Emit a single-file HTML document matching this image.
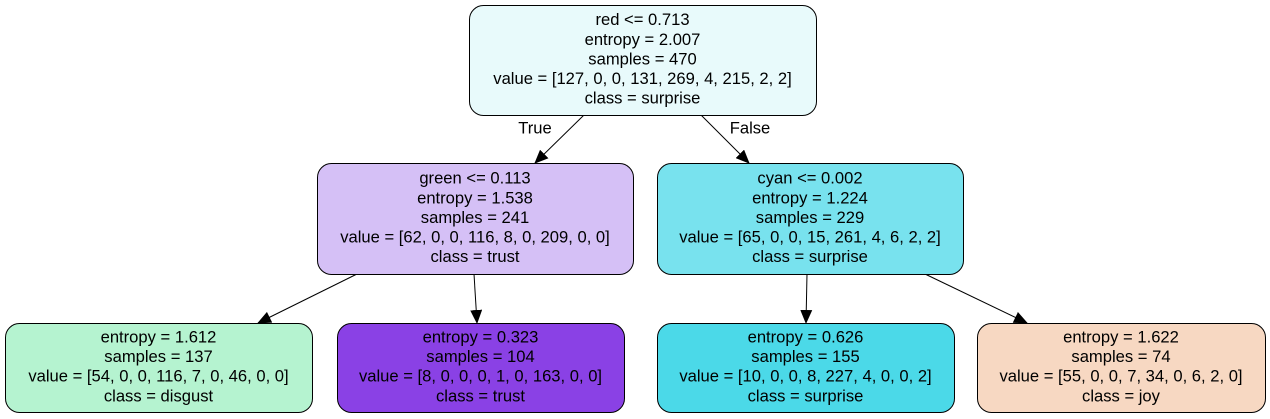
<!DOCTYPE html>
<html><head><meta charset="utf-8"><style>
html,body{margin:0;padding:0;background:#fff;width:1270px;height:419px;overflow:hidden}
svg text{font-family:"Liberation Sans",Arial,sans-serif;font-size:16.6px;fill:#000}
</style></head><body>
<svg id="tree" width="1270" height="419" viewBox="0 0 1270 419" xmlns="http://www.w3.org/2000/svg">
<defs><marker id="ah" markerWidth="14" markerHeight="12" refX="13" refY="6" orient="auto" markerUnits="userSpaceOnUse"><path d="M0,0 L14,6 L0,12 z" fill="#000"/></marker></defs>
</svg>
<script>
const nodeNames=["root","node-green","node-cyan","leaf-disgust","leaf-trust","leaf-surprise","leaf-joy"];
const nodeLines=[
["red <= 0.713","entropy = 2.007","samples = 470","value = [127, 0, 0, 131, 269, 4, 215, 2, 2]","class = surprise"],
["green <= 0.113","entropy = 1.538","samples = 241","value = [62, 0, 0, 116, 8, 0, 209, 0, 0]","class = trust"],
["cyan <= 0.002","entropy = 1.224","samples = 229","value = [65, 0, 0, 15, 261, 4, 6, 2, 2]","class = surprise"],
["entropy = 1.612","samples = 137","value = [54, 0, 0, 116, 7, 0, 46, 0, 0]","class = disgust"],
["entropy = 0.323","samples = 104","value = [8, 0, 0, 0, 1, 0, 163, 0, 0]","class = trust"],
["entropy = 0.626","samples = 155","value = [10, 0, 0, 8, 227, 4, 0, 0, 2]","class = surprise"],
["entropy = 1.622","samples = 74","value = [55, 0, 0, 7, 34, 0, 6, 2, 0]","class = joy"]];
const nodeFills=["#e8fafb","#d5c0f6","#78e2ee","#b5f3d0","#8a41e5","#4bd9e8","#f7d8c2"];
const boxes=[[469,5,816,115],[317,163,633,274],[657,163,963,274],[5,323,312,412],[337,323,624,412],[657,323,954,412],[977,323,1265,412]];
const edges=[[584,115,535,163,"True",535,129],[701,115,749,163,"False",750,129],[357,274,258,323],[474,274,477,323],[807,274,806,323],[925,274,1027,323]];
const svg=document.getElementById('tree');
const NS="http://www.w3.org/2000/svg";
edges.forEach((e,i)=>{
  const l=document.createElementNS(NS,'line');
  l.setAttribute('x1',e[0]);l.setAttribute('y1',e[1]);l.setAttribute('x2',e[2]);l.setAttribute('y2',e[3]);
  l.setAttribute('stroke','#000');l.setAttribute('stroke-width','1');l.setAttribute('marker-end','url(#ah)');
  
  
  svg.appendChild(l);
  if(e[4]){const t=document.createElementNS(NS,'text');
    t.setAttribute('x',e[5]);t.setAttribute('y',e[6]);t.setAttribute('text-anchor','middle');t.setAttribute('dominant-baseline','middle');
    t.textContent=e[4];
    
    
    svg.appendChild(t);}
});
boxes.forEach((b,i)=>{
  const g=document.createElementNS(NS,'g');
  
  
  const r=document.createElementNS(NS,'rect');
  r.setAttribute('x',b[0]+0.5);r.setAttribute('y',b[1]+0.5);r.setAttribute('width',b[2]-b[0]);r.setAttribute('height',b[3]-b[1]);
  r.setAttribute('rx',14);r.setAttribute('fill',nodeFills[i]);r.setAttribute('stroke','#000');
  g.appendChild(r);
  const lines=nodeLines[i];const cx=(b[0]+b[2])/2;const cy=(b[1]+b[3])/2;const sp=19.6;
  lines.forEach((s,j)=>{const t=document.createElementNS(NS,'text');
    t.setAttribute('x',cx);t.setAttribute('y',cy+(j-(lines.length-1)/2)*sp);
    t.setAttribute('text-anchor','middle');t.setAttribute('dominant-baseline','middle');
    t.textContent=s;g.appendChild(t);});
  svg.appendChild(g);
});
</script>
</body></html>
